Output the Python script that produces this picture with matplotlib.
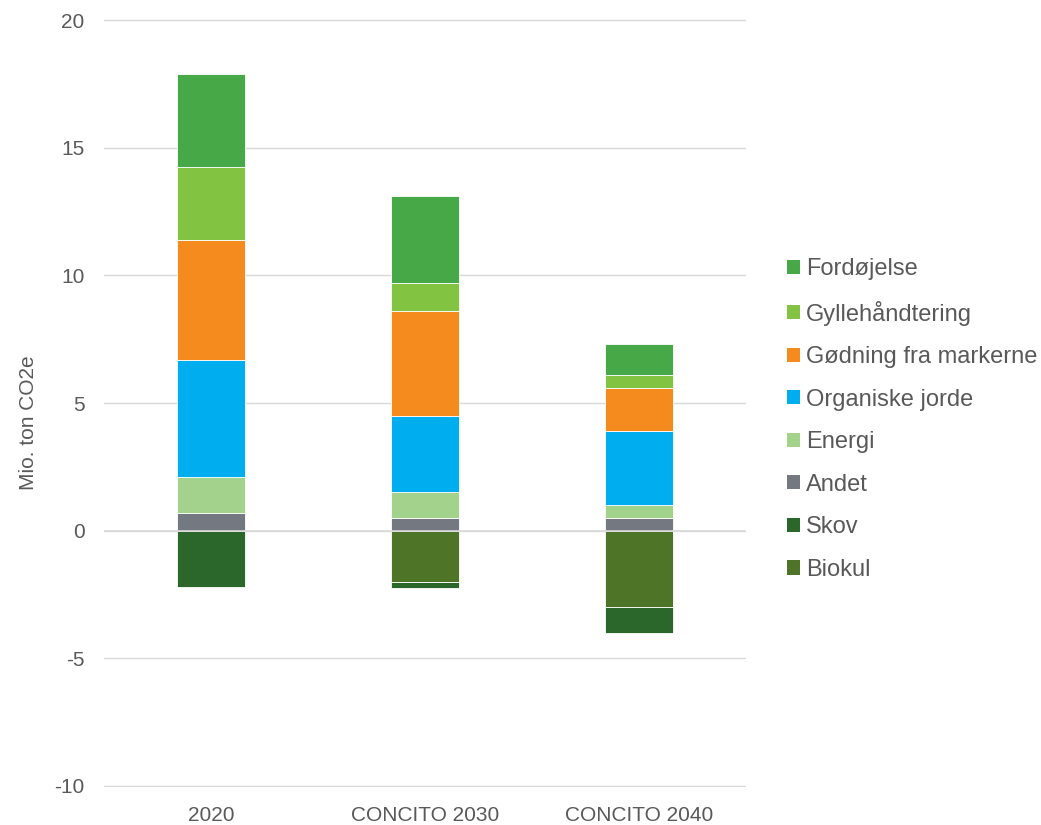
import numpy as np
import matplotlib
matplotlib.use("Agg")
from matplotlib import pyplot as plt
from matplotlib.patches import Patch

plt.rcParams['font.family'] = ['Liberation Sans', 'DejaVu Sans']
plt.rcParams['axes.unicode_minus'] = False

categories = ["2020", "CONCITO 2030", "CONCITO 2040"]

# positive parts, bottom to top
andet = [0.7, 0.5, 0.5]
energi = [1.4, 1.0, 0.5]
organiske = [4.6, 3.0, 2.9]
goedning = [4.7, 4.1, 1.7]
gylle = [2.85, 1.1, 0.5]
fordoejelse = [3.65, 3.4, 1.2]

# negative parts, from zero downward
biokul = [0.0, -2.0, -3.0]
skov = [-2.2, -0.25, -1.0]

pos_series = [
    ("Andet", andet, "#747880"),
    ("Energi", energi, "#A3D28C"),
    ("Organiske jorde", organiske, "#00AEEF"),
    ("Gødning fra markerne", goedning, "#F58B1F"),
    ("Gyllehåndtering", gylle, "#82C341"),
    ("Fordøjelse", fordoejelse, "#46A847"),
]
neg_series = [
    ("Biokul", biokul, "#4E7527"),
    ("Skov", skov, "#2B662B"),
]

fig = plt.figure(figsize=(10.41, 8.25), dpi=100)
ax = fig.add_axes([0.0999, 0.046, 0.6167, 0.931])

x = np.arange(len(categories))
w = 0.32

bottom = np.zeros(len(categories))
for name, vals, col in pos_series:
    ax.bar(x, vals, w, bottom=bottom, color=col, edgecolor="white", linewidth=0.6, zorder=3)
    bottom += np.array(vals)

bottom = np.zeros(len(categories))
for name, vals, col in neg_series:
    ax.bar(x, vals, w, bottom=bottom, color=col, edgecolor="white", linewidth=0.6, zorder=3)
    bottom += np.array(vals)

ax.set_xlim(-0.5, 2.5)
ax.set_ylim(-10.05, 20.05)
ax.set_yticks(range(-10, 21, 5))
ax.set_xticks(x)
ax.set_xticklabels(categories)
ax.grid(axis="y", color="#D9D9D9", linewidth=1, zorder=0)
ax.axhline(0, color="#D9D9D9", linewidth=1.2, zorder=4)
for s in ax.spines.values():
    s.set_visible(False)
ax.tick_params(length=0, labelsize=15, colors="#595959")
ax.tick_params(axis="y", pad=14)
ax.tick_params(axis="x", pad=14)
fig.text(28 / 1041, 1 - 423 / 825, "Mio. ton CO2e", rotation=90, ha="center", va="center",
         fontsize=15, color="#595959")

order = ["Fordøjelse", "Gyllehåndtering", "Gødning fra markerne", "Organiske jorde",
         "Energi", "Andet", "Skov", "Biokul"]
colors = {n: c for n, v, c in pos_series + neg_series}
handles = [Patch(facecolor=colors[n], edgecolor="none", label=n) for n in order]
leg = fig.legend(handles=handles, loc="upper left", bbox_to_anchor=(787 / 1041, 1 - 258 / 825),
                 frameon=False, fontsize=17, handlelength=0.55, handleheight=0.55,
                 handletextpad=0.25, labelspacing=0.87, borderpad=0, borderaxespad=0,
                 labelcolor="#595959")

fig.savefig("out.png", dpi=100)
